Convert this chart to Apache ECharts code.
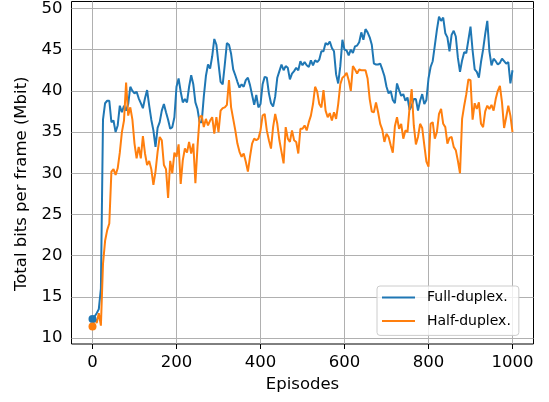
<!DOCTYPE html>
<html>
<head>
<meta charset="utf-8">
<script src="https://cdn.jsdelivr.net/npm/echarts@6/dist/echarts.min.js"></script>
<style>
  html, body { margin: 0; padding: 0; background: #fff; }
  #chart { width: 549px; height: 402px; }
</style>
</head>
<body>
<div id="chart"></div>
<script>
// episodes sampled every 5
const episodes = [];
for (let e = 0; e <= 1000; e += 5) {
  episodes.push(e);
}

const fullDuplex = [
  12.3, 12.6, 13.0, 13.5, 16.0, 36.5, 38.5, 38.8, 38.8, 36.2,
  36.4, 35.0, 35.8, 38.2, 37.4, 38.2, 37.6, 38.4, 40.5, 40.0,
  39.7, 39.9, 39.1, 38.5, 37.9, 39.1, 40.1, 38.2, 36.5, 35.2,
  33.2, 35.5, 36.2, 37.6, 38.4, 37.4, 36.5, 35.4, 35.6, 36.8,
  40.5, 41.5, 39.9, 38.6, 39.0, 38.6, 40.5, 41.9, 40.8, 38.6,
  37.8, 36.2, 36.2, 39.3, 41.8, 43.2, 42.7, 44.2, 46.3, 45.6,
  43.3, 41.1, 40.8, 43.2, 45.8, 45.6, 44.5, 42.6, 41.9, 41.1,
  40.4, 40.8, 40.5, 41.3, 41.6, 40.7, 39.5, 38.3, 39.5, 38.0,
  38.4, 40.8, 41.7, 41.6, 39.7, 38.5, 38.1, 39.3, 41.6, 42.4,
  43.2, 42.5, 43.0, 42.8, 41.4, 42.1, 42.4, 42.8, 42.5, 43.6,
  43.1, 43.5, 43.1, 42.9, 43.7, 43.1, 43.7, 43.5, 43.8, 44.8,
  44.8, 45.8, 45.6, 46.0, 45.2, 44.8, 42.0, 40.9, 43.0, 46.2,
  45.0, 44.9, 44.3, 45.0, 44.6, 45.4, 45.5, 45.9, 47.1, 46.2,
  47.5, 47.1, 46.5, 45.6, 43.3, 43.2, 43.2, 43.3, 42.6, 41.8,
  40.5, 39.7, 40.0, 38.9, 38.5, 40.9, 40.1, 39.4, 39.6, 38.8,
  39.2, 37.7, 38.2, 39.0, 39.0, 37.6, 38.8, 39.6, 38.4, 38.9,
  41.5, 42.9, 43.6, 45.5, 47.4, 49.0, 48.5, 48.9, 47.0, 46.5,
  44.8, 46.8, 47.3, 46.6, 44.0, 42.3, 43.7, 44.7, 44.6, 46.2,
  47.8, 44.9, 42.6, 42.3, 41.6, 43.5, 45.0, 46.9, 48.5, 44.8,
  43.1, 43.9, 43.6, 43.2, 43.4, 43.9, 43.6, 43.3, 43.5, 40.9,
  42.5
];

const halfDuplex = [
  11.4, 12.5, 11.8, 13.0, 11.5, 19.0, 21.8, 23.1, 23.9, 30.2,
  30.5, 29.8, 30.6, 32.5, 35.0, 36.4, 41.0, 37.0, 38.0, 36.5,
  33.6, 31.8, 33.2, 31.8, 34.5, 32.4, 31.0, 31.5, 30.5, 28.6,
  30.2, 32.6, 34.4, 34.0, 31.0, 30.5, 27.0, 31.5, 30.0, 32.5,
  32.0, 33.5, 28.7, 31.6, 33.0, 32.5, 33.8, 32.4, 33.6, 28.8,
  33.2, 36.8, 37.0, 35.6, 36.6, 35.8, 36.4, 36.8, 34.8, 36.8,
  35.0, 37.6, 37.9, 38.0, 38.3, 41.3, 38.0, 36.6, 35.2, 33.6,
  32.6, 32.0, 32.4, 31.4, 30.2, 32.0, 33.6, 34.2, 34.0, 34.2,
  35.2, 37.0, 37.2, 35.2, 34.0, 33.0, 35.6, 37.2, 36.0, 34.0,
  32.6, 31.2, 35.6, 34.2, 33.8, 35.2, 34.0, 33.8, 32.4, 35.4,
  35.4, 35.8, 35.2, 36.2, 37.0, 38.4, 40.5, 39.9, 38.4, 38.0,
  40.1, 37.6, 36.8, 37.3, 36.4, 37.4, 36.6, 38.4, 40.8, 41.6,
  41.8, 42.2, 41.3, 40.0, 43.0, 42.6, 42.1, 42.6, 42.5, 42.5,
  42.5, 41.5, 39.0, 37.5, 37.4, 38.6, 37.4, 36.0, 35.3, 33.8,
  34.8, 34.4, 33.4, 32.5, 35.7, 36.8, 35.4, 36.0, 34.2, 35.2,
  35.0, 38.0, 40.2, 35.8, 33.5, 34.4, 36.0, 35.5, 33.4, 31.4,
  30.8, 36.0, 36.2, 34.2, 35.0, 37.2, 37.8, 36.0, 35.6, 33.6,
  34.3, 34.4, 33.2, 32.8, 31.5, 30.0, 36.6, 38.2, 39.6, 41.4,
  41.3, 36.5, 38.5, 37.8, 38.6, 36.0, 35.6, 37.5, 38.2, 37.8,
  38.3, 37.6, 39.0, 40.0, 40.6, 38.6, 35.5, 36.8, 38.2, 37.0,
  35.0
];

const xTicks = [0, 200, 400, 600, 800, 1000];
const yTicks = [10, 15, 20, 25, 30, 35, 40, 45, 50];
const seriesNames = ['Full-duplex.', 'Half-duplex.'];
const colors = ['#1f77b4', '#ff7f0e'];

const FONT = 'DejaVu Sans';
const pairs = vals => episodes.map((e, i) => [e, vals[i]]);

const chart = echarts.init(document.getElementById('chart'));

const option = {
  animation: false,
  textStyle: { fontFamily: FONT },
  grid: {
    left: 71.5, right: 15.5, top: 1, bottom: 58,
    show: true, borderColor: '#000', borderWidth: 1
  },
  legend: {
    data: seriesNames,
    orient: 'vertical',
    left: 377, top: 286, z: 10,
    icon: 'rect',
    itemWidth: 33, itemHeight: 2,
    itemGap: 6.4,
    padding: [3, 8, 6, 5],
    backgroundColor: 'rgba(255,255,255,0.8)',
    borderColor: '#cccccc', borderWidth: 1, borderRadius: 3,
    textStyle: { fontFamily: FONT, fontSize: 14, lineHeight: 17, color: '#000', padding: [0, 0, 0, 7] }
  },
  xAxis: {
    type: 'value', min: -50, max: 1050,
    name: 'Episodes', nameLocation: 'middle', nameGap: 32,
    nameTextStyle: { fontFamily: FONT, fontSize: 16.5, color: '#000' },
    axisLine: { show: false },
    splitLine: { show: false },
    axisTick: { show: true, customValues: xTicks, length: 5, lineStyle: { color: '#000' } },
    axisLabel: {
      customValues: xTicks, fontFamily: FONT, fontSize: 16.5, color: '#000', margin: 10,
      formatter: v => String(v)
    }
  },
  yAxis: {
    type: 'value', min: 9.27, max: 50.85,
    name: 'Total bits per frame (Mbit)', nameLocation: 'middle', nameGap: 29,
    nameTextStyle: { fontFamily: FONT, fontSize: 16.5, color: '#000', padding: [0, 22, 0, 0] },
    axisLine: { show: false },
    splitLine: { show: false },
    axisTick: { show: true, customValues: yTicks, length: 5, lineStyle: { color: '#000' } },
    axisLabel: {
      customValues: yTicks, fontFamily: FONT, fontSize: 16.5, color: '#000', margin: 9,
      formatter: v => String(v)
    }
  },
  series: [
    {
      // grid lines at the tick positions
      name: 'grid', type: 'line', data: [], silent: true, z: 1,
      markLine: {
        silent: true, z: 1, symbol: ['none', 'none'],
        label: { show: false },
        lineStyle: { color: '#b0b0b0', width: 1, type: 'solid' },
        emphasis: { disabled: true },
        data: [
          ...xTicks.map(v => ({ xAxis: v })),
          ...yTicks.map(v => ({ yAxis: v }))
        ]
      }
    },
    {
      name: seriesNames[0], type: 'line', data: pairs(fullDuplex),
      showSymbol: false, symbol: 'none', z: 2,
      lineStyle: { color: colors[0], width: 2 }, itemStyle: { color: colors[0] }
    },
    {
      name: 'fd-start', type: 'scatter', data: [[episodes[0], fullDuplex[0]]],
      symbolSize: 8, z: 2, itemStyle: { color: colors[0], opacity: 1 }
    },
    {
      name: seriesNames[1], type: 'line', data: pairs(halfDuplex),
      showSymbol: false, symbol: 'none', z: 2,
      lineStyle: { color: colors[1], width: 2 }, itemStyle: { color: colors[1] }
    },
    {
      name: 'hd-start', type: 'scatter', data: [[episodes[0], halfDuplex[0]]],
      symbolSize: 8, z: 2, itemStyle: { color: colors[1], opacity: 1 }
    }
  ]
};

chart.setOption(option);
</script>
</body>
</html>
